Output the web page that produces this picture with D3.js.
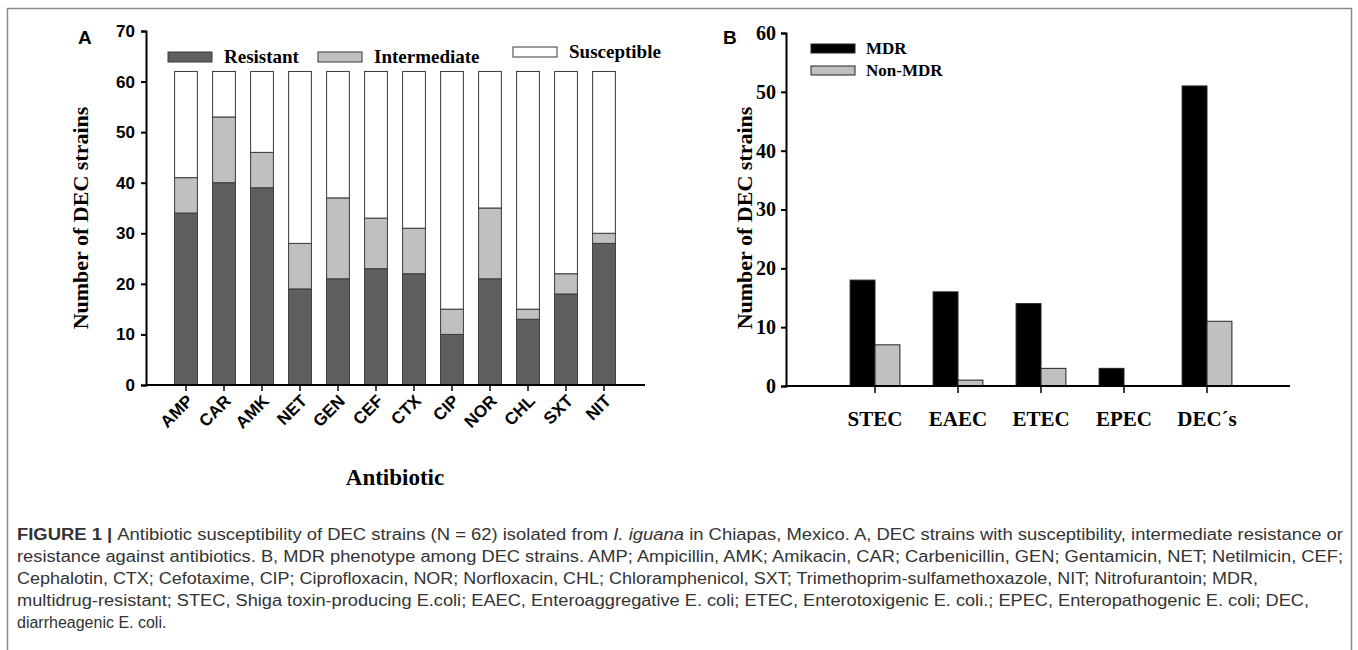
<!DOCTYPE html>
<html>
<head>
<meta charset="utf-8">
<script src="https://cdn.jsdelivr.net/npm/d3@7"></script>
<style>
  body { margin: 0; background: #fff; }
  svg { display: block; }
  .tnr { font-family: "Liberation Serif", "Times New Roman", serif; font-weight: bold; }
  .ar { font-family: "Liberation Sans", Arial, sans-serif; }
</style>
</head>
<body>
<div id="chart"></div>
<script>
// panel A data
const antibiotics = ["AMP", "CAR", "AMK", "NET", "GEN", "CEF", "CTX", "CIP", "NOR", "CHL", "SXT", "NIT"]
const resistant = [34, 40, 39, 19, 21, 23, 22, 10, 21, 13, 18, 28]
const intermediate = [7, 13, 7, 9, 16, 10, 9, 5, 14, 2, 4, 2]
const susceptible = [21, 9, 16, 34, 25, 29, 31, 47, 27, 47, 40, 32]
const yTicksA = [0, 10, 20, 30, 40, 50, 60, 70]

// panel B data
const groups = ["STEC", "EAEC", "ETEC", "EPEC", "DEC\u00b4s"]
const mdr = [18, 16, 14, 3, 51]
const nonMdr = [7, 1, 3, 0, 11]
const yTicksB = [0, 10, 20, 30, 40, 50, 60]

const W = 1358, H = 650
const svg = d3.select("#chart").append("svg").attr("width", W).attr("height", H)

// figure frame
svg.append("path")
  .attr("d", "M7.5," + H + "V8.5H1351.5V" + H)
  .attr("fill", "none").attr("stroke", "#8a8a8a").attr("stroke-width", 1.5)

// ---------- Panel A ----------
const gA = svg.append("g")
const xA = d3.scaleBand().domain(antibiotics).range([167, 623]).paddingInner(0.4).paddingOuter(0.2)
const yA = d3.scaleLinear().domain([0, 70]).range([385, 31])
const axisLeftX = 146, axisRightX = 645

const stackA = d3.stack().keys(["r", "i", "s"])(antibiotics.map((d, k) => ({
  name: d, r: resistant[k], i: intermediate[k], s: susceptible[k]
})))
const fillA = { r: "#5f5f5f", i: "#c0c0c0", s: "#ffffff" }

gA.selectAll("g.layer").data(stackA).join("g")
  .attr("class", "layer")
  .attr("fill", d => fillA[d.key])
  .selectAll("rect").data(d => d).join("rect")
  .attr("x", d => xA(d.data.name))
  .attr("width", xA.bandwidth())
  .attr("y", d => yA(d[1]))
  .attr("height", d => yA(d[0]) - yA(d[1]))
  .attr("stroke", "#3a3a3a").attr("stroke-width", 1)

// y axis A
const yAxisA = gA.append("g").attr("transform", "translate(" + axisLeftX + ",0)")
  .call(d3.axisLeft(yA).tickValues(yTicksA).tickSize(5).tickPadding(6))
yAxisA.selectAll("text").attr("class", "ar").attr("font-size", 17).attr("font-weight", "bold").attr("fill", "#000")
yAxisA.selectAll("line, path").attr("stroke", "#000").attr("stroke-width", 2)

// x axis A
const xAxisA = gA.append("g").attr("transform", "translate(0," + yA(0) + ")")
  .call(d3.axisBottom(xA).tickSize(6).tickSizeOuter(0))
xAxisA.select(".domain").remove()
xAxisA.selectAll("line").attr("stroke", "#000").attr("stroke-width", 1.5)
xAxisA.selectAll("text")
  .attr("class", "ar").attr("font-size", 17).attr("font-weight", "bold").attr("fill", "#000")
  .attr("text-anchor", "end").attr("dy", 0).attr("y", 0)
  .attr("transform", "translate(8,17) rotate(-45)")
gA.append("line")
  .attr("x1", axisLeftX).attr("x2", axisRightX).attr("y1", yA(0)).attr("y2", yA(0))
  .attr("stroke", "#000").attr("stroke-width", 2)

gA.append("text").attr("class", "ar").attr("x", 78).attr("y", 44)
  .attr("font-size", 19).attr("font-weight", "bold").text("A")
gA.append("text").attr("class", "tnr").attr("font-size", 22)
  .attr("transform", "translate(88,218) rotate(-90)").attr("text-anchor", "middle")
  .text("Number of DEC strains")
gA.append("text").attr("class", "tnr").attr("font-size", 23)
  .attr("x", 395).attr("y", 485).attr("text-anchor", "middle").text("Antibiotic")

// legend A
const legA = [
  { label: "Resistant", key: "r", x: 168, y: 52 },
  { label: "Intermediate", key: "i", x: 318, y: 52 },
  { label: "Susceptible", key: "s", x: 513, y: 47 }
]
const lg = gA.selectAll("g.leg").data(legA).join("g").attr("class", "leg")
lg.append("rect").attr("x", d => d.x).attr("y", d => d.y).attr("width", 44).attr("height", 10)
  .attr("fill", d => fillA[d.key]).attr("stroke", "#3a3a3a")
lg.append("text").attr("class", "tnr").attr("font-size", 19)
  .attr("x", d => d.x + 56).attr("y", d => d.y + 11).text(d => d.label)

// ---------- Panel B ----------
const gB = svg.append("g")
const x0 = d3.scaleBand().domain(groups).range([833.5, 1248.5]).paddingInner(0.4).paddingOuter(0.2)
const x1 = d3.scaleBand().domain(["MDR", "Non-MDR"]).range([0, x0.bandwidth()])
const yB = d3.scaleLinear().domain([0, 60]).range([386, 33])
const fillB = { "MDR": "#000000", "Non-MDR": "#c0c0c0" }
const axisLeftB = 786, axisRightB = 1290

const rowsB = groups.map((g, k) => ({ g: g, vals: [{ k: "MDR", v: mdr[k] }, { k: "Non-MDR", v: nonMdr[k] }] }))
gB.selectAll("g.grp").data(rowsB).join("g").attr("class", "grp")
  .attr("transform", d => "translate(" + x0(d.g) + ",0)")
  .selectAll("rect").data(d => d.vals.filter(e => e.v > 0)).join("rect")
  .attr("x", d => x1(d.k)).attr("width", x1.bandwidth())
  .attr("y", d => yB(d.v)).attr("height", d => yB(0) - yB(d.v))
  .attr("fill", d => fillB[d.k]).attr("stroke", "#222").attr("stroke-width", 1)

const yAxisB = gB.append("g").attr("transform", "translate(" + axisLeftB + ",0)")
  .call(d3.axisLeft(yB).tickValues(yTicksB).tickSize(5).tickPadding(5))
yAxisB.selectAll("text").attr("class", "tnr").attr("font-size", 20).attr("fill", "#000")
yAxisB.selectAll("line, path").attr("stroke", "#000").attr("stroke-width", 2)

const xAxisB = gB.append("g").attr("transform", "translate(0," + yB(0) + ")")
  .call(d3.axisBottom(x0).tickSize(7).tickPadding(18).tickSizeOuter(0))
xAxisB.select(".domain").remove()
xAxisB.selectAll("line").attr("stroke", "#000").attr("stroke-width", 1.5)
xAxisB.selectAll("text").attr("class", "tnr").attr("font-size", 21).attr("fill", "#000")
gB.append("line")
  .attr("x1", axisLeftB).attr("x2", axisRightB).attr("y1", yB(0)).attr("y2", yB(0))
  .attr("stroke", "#000").attr("stroke-width", 2)

gB.append("text").attr("class", "ar").attr("x", 723).attr("y", 44)
  .attr("font-size", 19).attr("font-weight", "bold").text("B")
gB.append("text").attr("class", "tnr").attr("font-size", 22)
  .attr("transform", "translate(752,218) rotate(-90)").attr("text-anchor", "middle")
  .text("Number of DEC strains")

const legB = [{ label: "MDR", y: 44 }, { label: "Non-MDR", y: 66 }]
const lgB = gB.selectAll("g.legb").data(legB).join("g").attr("class", "legb")
lgB.append("rect").attr("x", 811).attr("y", d => d.y).attr("width", 44).attr("height", 9)
  .attr("fill", d => fillB[d.label]).attr("stroke", "#222")
lgB.append("text").attr("class", "tnr").attr("font-size", 17)
  .attr("x", 866).attr("y", d => d.y + 10).text(d => d.label)

// ---------- caption ----------
const cap = svg.append("g").attr("class", "ar").attr("font-size", 16).attr("fill", "#333")
const l1 = cap.append("text").attr("x", 17).attr("y", 540).attr("textLength", 1326).attr("lengthAdjust", "spacingAndGlyphs")
l1.append("tspan").attr("font-weight", "bold").text("FIGURE 1 | ")
l1.append("tspan").text("Antibiotic susceptibility of DEC strains (N = 62) isolated from ")
l1.append("tspan").attr("font-style", "italic").text("I. iguana")
l1.append("tspan").text(" in Chiapas, Mexico. A, DEC strains with susceptibility, intermediate resistance or")
const capLines = [
  { t: "resistance against antibiotics. B, MDR phenotype among DEC strains. AMP; Ampicillin, AMK; Amikacin, CAR; Carbenicillin, GEN; Gentamicin, NET; Netilmicin, CEF;", w: 1326 },
  { t: "Cephalotin, CTX; Cefotaxime, CIP; Ciprofloxacin, NOR; Norfloxacin, CHL; Chloramphenicol, SXT; Trimethoprim-sulfamethoxazole, NIT; Nitrofurantoin; MDR,", w: 1241 },
  { t: "multidrug-resistant; STEC, Shiga toxin-producing E.coli; EAEC, Enteroaggregative E. coli; ETEC, Enterotoxigenic E. coli.; EPEC, Enteropathogenic E. coli; DEC,", w: 1292 },
  { t: "diarrheagenic E. coli.", w: 0 }
]
cap.selectAll("text.cl").data(capLines).join("text").attr("class", "cl")
  .attr("x", 17).attr("y", (d, k) => 562 + k * 22)
  .attr("textLength", d => d.w || null).attr("lengthAdjust", d => d.w ? "spacingAndGlyphs" : null)
  .text(d => d.t)
</script>
</body>
</html>
